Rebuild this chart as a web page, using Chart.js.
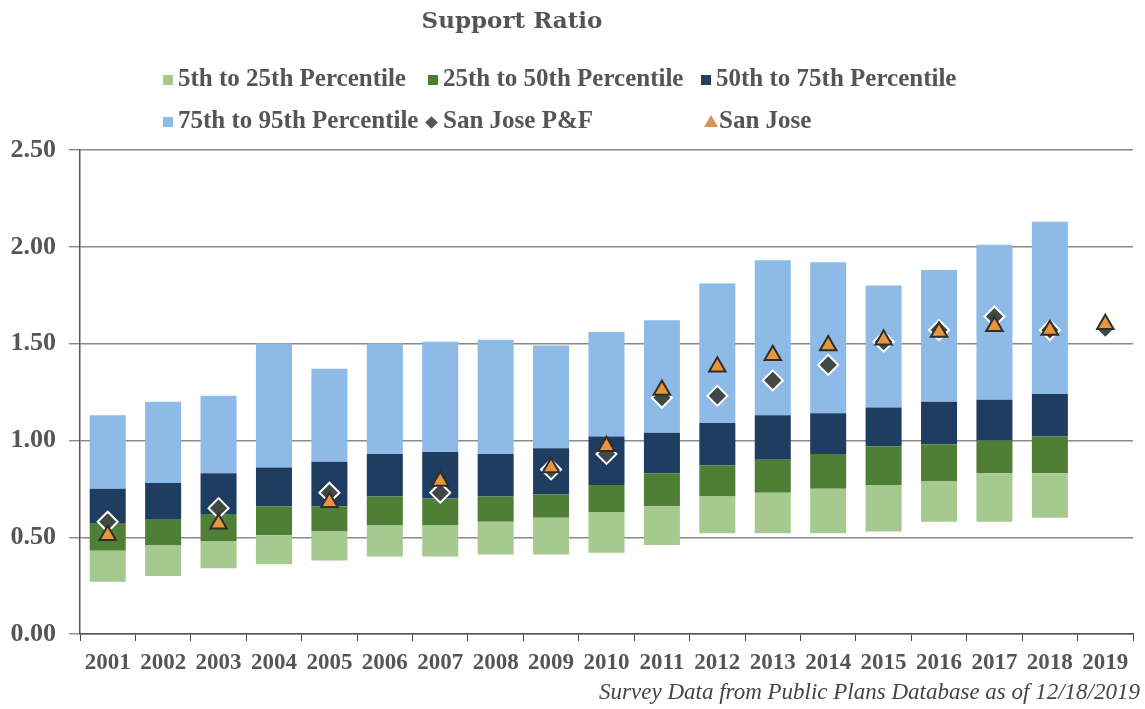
<!DOCTYPE html>
<html>
<head>
<meta charset="utf-8">
<script src="https://cdn.jsdelivr.net/npm/chart.js@4"></script>
<style>
  html, body { margin: 0; padding: 0; background: #fff; }
  #wrap { position: relative; width: 1145px; height: 709px; }
  #chart { position: absolute; left: 0; top: 0; }
  .title { position: absolute; left: 0; width: 1024px; top: 6px; text-align: center;
           font: bold 23px "DejaVu Serif", serif; color: #555; }
  .leg { position: absolute; font: bold 25px "Liberation Serif", serif; color: #555;
         white-space: nowrap; line-height: 28px; }
  .leg i { display: inline-block; width: 10px; height: 10px; margin-right: 5px; vertical-align: 1px; }
  .leg i.dia { width: 9px; height: 9px; background: #555; transform: rotate(45deg); margin: 0 7px 0 3px; }
  .leg i.tri { width: 0; height: 0; border-left: 7px solid transparent; border-right: 7px solid transparent;
               border-bottom: 12px solid #d89457; margin-right: 1px; }
  .foot { position: absolute; right: 5px; top: 679px; font: italic 23px "Liberation Serif", serif; color: #444; }
</style>
</head>
<body>
<div id="wrap">
  <canvas id="chart" width="1145" height="709"></canvas>
  <div class="title">Support Ratio</div>
  <div class="leg" style="left:163px;top:64px"><i style="background:#a6c98f"></i>5th to 25th Percentile</div>
  <div class="leg" style="left:428px;top:64px"><i style="background:#4f7f35"></i>25th to 50th Percentile</div>
  <div class="leg" style="left:701px;top:64px"><i style="background:#243f5e"></i>50th to 75th Percentile</div>
  <div class="leg" style="left:163px;top:106px"><i style="background:#8dbae6"></i>75th to 95th Percentile</div>
  <div class="leg" style="left:424px;top:106px"><i class="dia"></i>San Jose P&amp;F</div>
  <div class="leg" style="left:704px;top:106px"><i class="tri"></i>San Jose</div>
  <div class="foot">Survey Data from Public Plans Database as of 12/18/2019</div>
</div>
<script>
const years = ['2001','2002','2003','2004','2005','2006','2007','2008','2009','2010',
               '2011','2012','2013','2014','2015','2016','2017','2018','2019'];
const p5  = [0.27,0.30,0.34,0.36,0.38,0.40,0.40,0.41,0.41,0.42,0.46,0.52,0.52,0.52,0.53,0.58,0.58,0.60,null];
const p25 = [0.43,0.46,0.48,0.51,0.53,0.56,0.56,0.58,0.60,0.63,0.66,0.71,0.73,0.75,0.77,0.79,0.83,0.83,null];
const p50 = [0.57,0.59,0.62,0.66,0.66,0.71,0.70,0.71,0.72,0.77,0.83,0.87,0.90,0.93,0.97,0.98,1.00,1.02,null];
const p75 = [0.75,0.78,0.83,0.86,0.89,0.93,0.94,0.93,0.96,1.02,1.04,1.09,1.13,1.14,1.17,1.20,1.21,1.24,null];
const p95 = [1.13,1.20,1.23,1.50,1.37,1.50,1.51,1.52,1.49,1.56,1.62,1.81,1.93,1.92,1.80,1.88,2.01,2.13,null];
const sanJosePF = [0.58,null,0.65,null,0.73,null,0.73,null,0.85,0.93,1.22,1.23,1.31,1.39,1.51,1.57,1.64,1.57,1.58];
const sanJose   = [0.51,null,0.57,null,0.68,null,0.79,null,0.86,0.97,1.26,1.38,1.44,1.49,1.52,1.56,1.59,1.57,1.60];
const yTicks = [0, 0.5, 1, 1.5, 2, 2.5];

// floating bar [low, high] for each band
function band(lo, hi) {
    return lo.map((v, i) => v == null ? null : [v, hi[i]]);
}

function barSet(label, lo, hi, color) {
    return { type: 'bar', label, data: band(lo, hi), backgroundColor: color,
             grouped: false, categoryPercentage: 1, barPercentage: 0.65, order: 3 };
}

new Chart(document.getElementById('chart'), {
    type: 'bar',
    data: {
        labels: years,
        datasets: [
            barSet('5th to 25th Percentile', p5, p25, '#a6c98f'),
            barSet('25th to 50th Percentile', p25, p50, '#4f7f35'),
            barSet('50th to 75th Percentile', p50, p75, '#1f3d60'),
            barSet('75th to 95th Percentile', p75, p95, '#8dbae6'),
            { type: 'line', label: 'San Jose P&F', data: sanJosePF, showLine: false, order: 2,
              pointStyle: 'rectRot', pointRadius: 10, pointBackgroundColor: '#3f4844',
              pointBorderColor: '#ffffff', pointBorderWidth: 2 },
            { type: 'line', label: 'San Jose', data: sanJose, showLine: false, order: 1,
              pointStyle: 'triangle', pointRadius: 9.5, pointBackgroundColor: '#e9953c',
              pointBorderColor: '#2e2e2e', pointBorderWidth: 2 }
        ]
    },
    options: {
        responsive: false,
        animation: false,
        layout: { padding: { top: 150, right: 6, left: 0, bottom: 0 } },
        plugins: { legend: { display: false }, tooltip: { enabled: false } },
        scales: {
            x: {
                grid: { drawOnChartArea: false, drawTicks: true, tickLength: 7, color: '#444', offset: true },
                border: { color: '#555', width: 1.5 },
                ticks: { color: '#555', padding: 8, maxRotation: 0, autoSkip: false,
                         font: { family: 'Liberation Serif', size: 23, weight: 'bold' } },
                afterFit: (s) => { s.height = 75; }
            },
            y: {
                min: 0, max: 2.5,
                afterBuildTicks: (s) => { s.ticks = yTicks.map(v => ({ value: v })); },
                grid: { color: '#8a8a8a', lineWidth: 1.4, tickLength: 11 },
                border: { color: '#555', width: 1.5 },
                ticks: { color: '#555', padding: 13,
                         callback: (v) => v.toFixed(2),
                         font: { family: 'Liberation Serif', size: 26, weight: 'bold' } },
                afterFit: (s) => { s.width = 80; }
            }
        }
    }
});
</script>
</body>
</html>
